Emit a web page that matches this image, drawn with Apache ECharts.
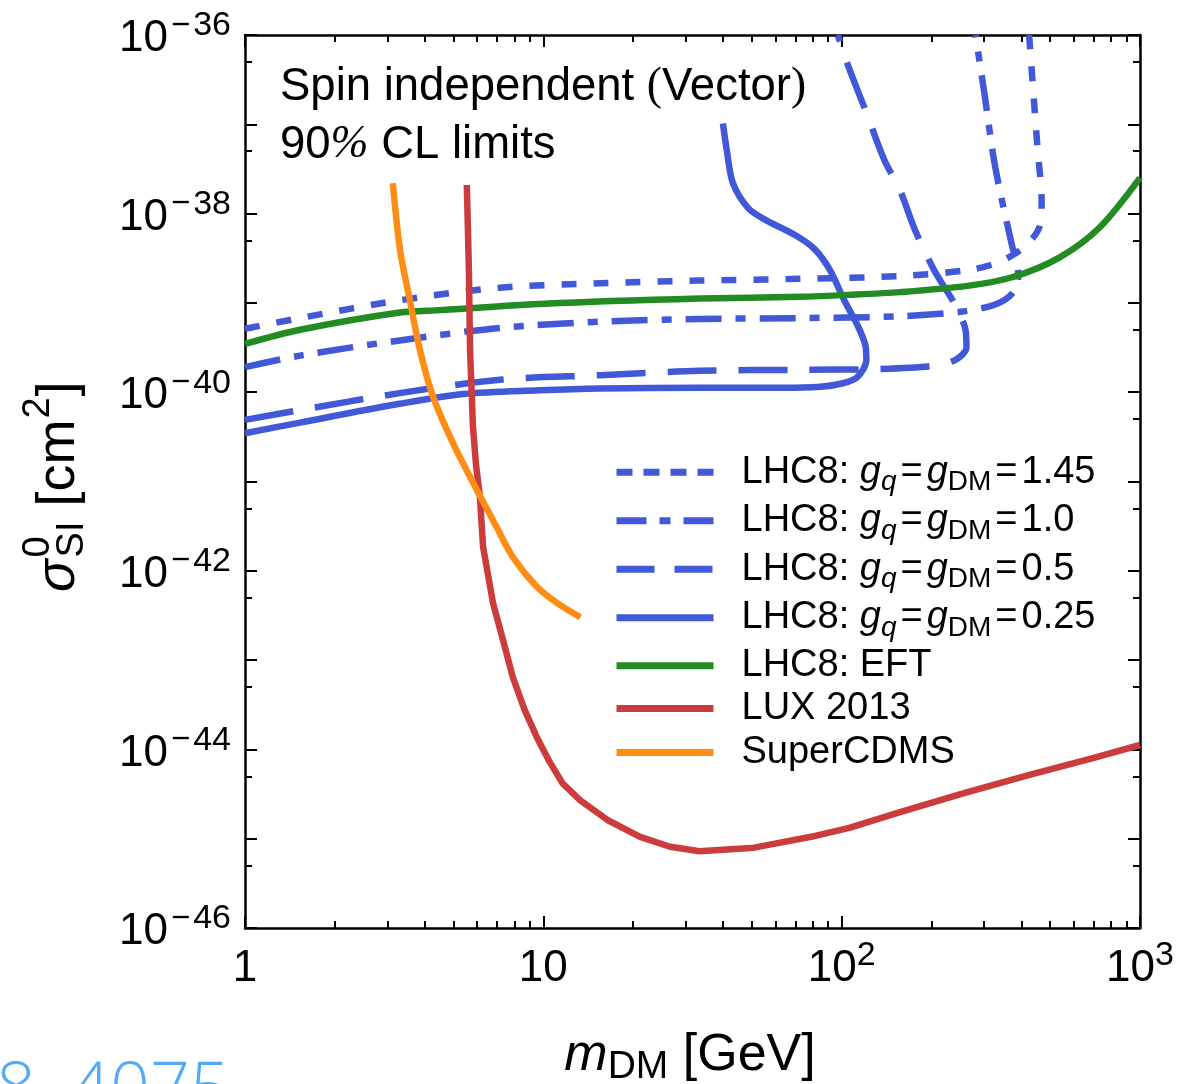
<!DOCTYPE html>
<html>
<head>
<meta charset="utf-8">
<script src="https://cdn.jsdelivr.net/npm/echarts@6/dist/echarts.min.js"></script>
<style>
  html, body { margin: 0; padding: 0; background: #fff; }
  #chart { width: 1197px; height: 1084px; }
</style>
</head>
<body>
<div id="chart"></div>
<script>
// ---- Limits on the spin-independent DM-nucleon cross-section ----
// masses in GeV, cross-sections in cm^2

// LHC8 simplified model, g_q = g_DM = 1.45
const mass145  = [1, 1.53, 3.3, 7.15, 15.5, 33.4, 72.5, 157, 268, 339, 396, 438, 462, 468, 454, 441, 425];
const sigma145 = [5.13e-40, 6.76e-40, 1.07e-39, 1.48e-39, 1.66e-39, 1.78e-39, 1.86e-39, 2.0e-39, 2.34e-39, 2.88e-39, 3.89e-39, 5.37e-39, 7.41e-39, 1.41e-38, 5.13e-38, 1.86e-37, 1.0e-36];

// g_q = g_DM = 1.0
const mass100  = [1, 1.53, 3.3, 7.15, 15.5, 33.4, 72.5, 157, 250, 326, 374, 391, 372, 347, 324, 302, 281];
const sigma100 = [1.91e-40, 2.57e-40, 3.80e-40, 5.25e-40, 6.17e-40, 6.61e-40, 6.76e-40, 7.08e-40, 7.94e-40, 9.55e-40, 1.29e-39, 2.04e-39, 4.47e-39, 1.26e-38, 3.98e-38, 2.04e-37, 1.0e-36];

// g_q = g_DM = 0.5
const mass050  = [1, 1.53, 3.3, 7.15, 15.5, 33.4, 72.5, 134, 197, 240, 262, 260, 240, 204, 176, 157, 139, 120, 105, 97];
const sigma050 = [4.9e-41, 6.31e-41, 9.77e-41, 1.38e-40, 1.55e-40, 1.74e-40, 1.78e-40, 1.82e-40, 1.95e-40, 2.29e-40, 3.16e-40, 5.01e-40, 9.55e-40, 2.34e-39, 6.61e-39, 1.82e-38, 3.98e-38, 1.45e-37, 4.57e-37, 1.0e-36];

// g_q = g_DM = 0.25
const mass025  = [1, 1.53, 3.3, 5.38, 9.72, 15.5, 33.4, 62.3, 84.9, 101, 113, 121, 120, 113, 102, 91.3, 81.3, 69.8, 55.5, 48.6, 43.2, 41.2, 40.0];
const sigma025 = [3.47e-41, 4.57e-41, 7.41e-41, 9.55e-41, 1.05e-40, 1.10e-40, 1.12e-40, 1.12e-40, 1.15e-40, 1.26e-40, 1.48e-40, 2.29e-40, 3.39e-40, 5.62e-40, 1.07e-39, 2.34e-39, 3.98e-39, 5.75e-39, 8.51e-39, 1.15e-38, 2.19e-38, 5.13e-38, 1.02e-37];

// LHC8 effective field theory
const massEFT  = [1, 1.53, 3.3, 4.5, 10.1, 33.4, 72.5, 106, 157, 264, 375, 538, 735, 1000];
const sigmaEFT = [3.47e-40, 5.0e-40, 7.8e-40, 8.3e-40, 9.8e-40, 1.12e-39, 1.17e-39, 1.23e-39, 1.32e-39, 1.55e-39, 1.95e-39, 3.24e-39, 7.08e-39, 2.51e-38];

// LUX 2013
const massLUX  = [5.54, 5.63, 5.68, 5.81, 5.95, 6.13, 6.28, 6.78, 7.33, 7.90, 8.66, 9.50, 10.5, 11.6, 13.3, 16.4, 21.1, 26.6, 33.4, 50.9, 78.9, 106, 158, 257, 420, 690, 1000];
const sigmaLUX = [2.09e-38, 2.34e-39, 2.95e-40, 4.07e-41, 1.51e-41, 6.76e-42, 1.86e-42, 4.37e-43, 1.66e-43, 6.46e-44, 2.75e-44, 1.38e-44, 7.24e-45, 4.17e-45, 2.69e-45, 1.62e-45, 1.05e-45, 8.13e-46, 7.24e-46, 7.94e-46, 1.05e-45, 1.32e-45, 2.0e-45, 3.24e-45, 5.13e-45, 7.94e-45, 1.12e-44];

// SuperCDMS
const massCDMS  = [3.13, 3.31, 3.57, 3.86, 4.27, 4.98, 6.0, 6.97, 7.92, 9.52, 11.1, 13.3];
const sigmaCDMS = [2.19e-38, 3.89e-39, 1.07e-39, 2.95e-40, 8.91e-41, 2.69e-41, 7.94e-42, 3.09e-42, 1.41e-42, 6.61e-43, 4.37e-43, 3.02e-43];

// legend entries, in drawing order
const legendNames = ['LHC8: gq=gDM=1.45', 'LHC8: gq=gDM=1.0', 'LHC8: gq=gDM=0.5', 'LHC8: gq=gDM=0.25', 'LHC8: EFT', 'LUX 2013', 'SuperCDMS'];
const couplingLabels = ['1.45', '1.0', '0.5', '0.25'];

// axis ticks (decades) and labels
const xMajorExp   = [0, 1, 2, 3];
const xMinorMult  = [2, 3, 4, 5, 6, 7, 8, 9];
const xTickLabels = ['{b|1}', '{b|10}', '{b|10}{s|2}', '{b|10}{s|3}'];
const yMajorExp   = [-46, -45, -44, -43, -42, -41, -40, -39, -38, -37, -36];
const yLabelExp   = [-46, -44, -42, -40, -38, -36];
const yMinorMult  = [5];

// ---- helpers ----
const FONT = '"Liberation Sans", Arial, Helvetica, sans-serif';
const SERIF = '"Liberation Serif", "Times New Roman", serif';
const BLUE = '#4158d8', GREEN = '#228b22', RED = '#cc3c3c', ORANGE = '#ff8c14';

const toLogPairs = (m, s) => m.map((v, i) => [Math.log10(v), Math.log10(s[i])]);
const minorTicks = (lo, hi, mult) => {
  const out = [];
  for (let d = lo; d < hi; d++) mult.forEach(k => out.push(d + Math.log10(k)));
  return out;
};
const xMinor = minorTicks(0, 3, xMinorMult);
const yMinor = minorTicks(-46, -36, yMinorMult);

const measureCtx = document.createElement('canvas').getContext('2d');
const textWidth = (str, font) => { measureCtx.font = font; return measureCtx.measureText(str).width; };

const tickRich = {
  b: { fontSize: 44, fontFamily: FONT, color: '#000', lineHeight: 52, verticalAlign: 'bottom' },
  m: { fontSize: 33, fontFamily: FONT, color: '#000', lineHeight: 20, verticalAlign: 'top', padding: [0, 3, 0, 3] },
  s: { fontSize: 34, fontFamily: FONT, color: '#000', lineHeight: 20, verticalAlign: 'top' }
};
const axisLineStyle = { color: '#000', width: 2.5 };
const tickLine = { color: '#000', width: 2 };

function xAxisDef(position, major, withLabels) {
  return {
    type: 'value', min: 0, max: 3, position: position,
    axisLine: { show: major, onZero: false, lineStyle: axisLineStyle },
    axisTick: { show: true, inside: true, length: major ? 12 : 7, customValues: major ? xMajorExp : xMinor, lineStyle: tickLine },
    axisLabel: withLabels ? {
      show: true, customValues: xMajorExp, margin: 11,
      formatter: v => xTickLabels[xMajorExp.indexOf(Math.round(v))],
      rich: tickRich
    } : { show: false },
    splitLine: { show: false }
  };
}
function yAxisDef(position, major, withLabels) {
  return {
    type: 'value', min: -46, max: -36, position: position,
    axisLine: { show: major, onZero: false, lineStyle: axisLineStyle },
    axisTick: { show: true, inside: true, length: major ? 12 : 7, customValues: major ? yMajorExp : yMinor, lineStyle: tickLine },
    axisLabel: withLabels ? {
      show: true, customValues: yLabelExp, margin: 14,
      formatter: v => '{b|10}{m|\u2212}{s|' + Math.round(-v) + '}',
      rich: tickRich
    } : { show: false },
    splitLine: { show: false }
  };
}

// ---- series ----
const curves = [
  { mass: mass145, sigma: sigma145, color: BLUE,   dash: [15, 17],         legendDash: [16, 11],         smooth: 0.3 },
  { mass: mass100, sigma: sigma100, color: BLUE,   dash: [36, 14, 10, 14], legendDash: [30, 13, 11, 13], smooth: 0.3 },
  { mass: mass050, sigma: sigma050, color: BLUE,   dash: [49, 22],         legendDash: [38, 20],         smooth: 0.3 },
  { mass: mass025, sigma: sigma025, color: BLUE,   dash: 'solid',          legendDash: 'solid',          smooth: 0.3 },
  { mass: massEFT, sigma: sigmaEFT, color: GREEN,  dash: 'solid',          legendDash: 'solid',          smooth: 0.3 },
  { mass: massLUX, sigma: sigmaLUX, color: RED,    dash: 'solid',          legendDash: 'solid',          smooth: false },
  { mass: massCDMS, sigma: sigmaCDMS, color: ORANGE, dash: 'solid',        legendDash: 'solid',          smooth: 0.3 }
];

const series = curves.map((c, i) => ({
  name: legendNames[i],
  type: 'line',
  xAxisIndex: 0, yAxisIndex: 0,
  data: toLogPairs(c.mass, c.sigma),
  symbol: 'none',
  smooth: c.smooth,
  clip: true,
  lineStyle: { color: c.color, width: 6.5, type: c.dash, cap: 'butt', join: 'round' },
  itemStyle: { color: c.color },
  emphasis: { disabled: true }
}));

// ---- legend ----
const legendText = {};
couplingLabels.forEach((g, i) => {
  legendText[legendNames[i]] = '{pad| }{a|LHC8: }{ai|g}{sq|q}{eq|=}{ai|g}{sd|DM}{eq|=}{a|' + g + '}';
});
legendText['LHC8: EFT'] = '{pad| }{e|LHC8: EFT}';
legendText['LUX 2013'] = '{pad| }{l|LUX 2013}';
legendText['SuperCDMS'] = '{pad| }{u|SuperCDMS}';

const legendRich = {
  pad: { width: 23, lineHeight: 10, fontSize: 10 },
  a:  { fontSize: 38, fontFamily: FONT, color: '#000', lineHeight: 48.5 },
  eq: { fontSize: 38, fontFamily: FONT, color: '#000', lineHeight: 48.5, padding: [0, 4, 0, 4] },
  ai: { fontSize: 38, fontFamily: FONT, fontStyle: 'italic', color: '#000', lineHeight: 48.5 },
  sq: { fontSize: 28, fontFamily: FONT, fontStyle: 'italic', color: '#000', lineHeight: 20, verticalAlign: 'bottom' },
  sd: { fontSize: 28, fontFamily: FONT, color: '#000', lineHeight: 20, verticalAlign: 'bottom' },
  e:  { fontSize: 38, fontFamily: FONT, color: '#000', lineHeight: 47.5 },
  l:  { fontSize: 38, fontFamily: FONT, color: '#000', lineHeight: 36 },
  u:  { fontSize: 38, fontFamily: FONT, color: '#000', lineHeight: 50 }
};

// ---- y-axis title, typeset piecewise and turned upright ----
const yTitleBase = 54, yTitleSmall = 38;
const fSigma = 'italic ' + yTitleBase + 'px ' + FONT;
const fBase = yTitleBase + 'px ' + FONT;
const fSmall = yTitleSmall + 'px ' + FONT;
const wSigma = textWidth('\u03c3', fSigma);
const wScript = Math.max(textWidth('0', fSmall), textWidth('SI', fSmall));
const xUnit = wSigma + 2 + wScript + textWidth(' ', fBase);
const wOpen = textWidth('[cm', fBase);
const wSup2 = textWidth('2', fSmall);
const yTitleParts = [
  { text: '\u03c3', x: 0, y: 0, font: fSigma },
  { text: '0', x: wSigma + 2, y: -20, font: fSmall },
  { text: 'SI', x: wSigma + 2, y: 14, font: fSmall },
  { text: '[cm', x: xUnit, y: 0, font: fBase },
  { text: '2', x: xUnit + wOpen + 1, y: -20, font: fSmall },
  { text: ']', x: xUnit + wOpen + wSup2 + 2, y: 0, font: fBase }
];

const option = {
  animation: false,
  backgroundColor: '#fff',
  grid: { left: 245, right: 57, top: 35, bottom: 156, outerBoundsMode: 'none' },
  xAxis: [
    xAxisDef('bottom', true, true),
    xAxisDef('bottom', false, false),
    xAxisDef('top', true, false),
    xAxisDef('top', false, false)
  ],
  yAxis: [
    yAxisDef('left', true, true),
    yAxisDef('left', false, false),
    yAxisDef('right', true, false),
    yAxisDef('right', false, false)
  ],
  legend: {
    orient: 'vertical',
    left: 613, top: 448,
    padding: 0,
    itemGap: 0,
    itemWidth: 97, itemHeight: 7,
    selectedMode: false,
    data: legendNames.map((n, i) => ({ name: n, lineStyle: { type: curves[i].legendDash } })),
    lineStyle: { width: 7 },
    itemStyle: { opacity: 0 },
    formatter: name => legendText[name],
    textStyle: { color: '#000', backgroundColor: 'rgba(255,255,255,0)', rich: legendRich }
  },
  series: series,
  graphic: [
    {
      type: 'text', x: 280, y: 87, silent: true,
      style: {
        text: '{n|Spin independent }{p|(}{n|Vector}{p|)}',
        verticalAlign: 'middle', align: 'left',
        rich: {
          n: { fontSize: 45.5, fontFamily: FONT, fill: '#000' },
          p: { fontSize: 45.5, fontFamily: SERIF, fill: '#000' }
        }
      }
    },
    {
      type: 'text', x: 280, y: 145, silent: true,
      style: {
        text: '{n|90}{p|%}{n| CL limits}',
        verticalAlign: 'middle', align: 'left',
        rich: {
          n: { fontSize: 45.5, fontFamily: FONT, fill: '#000' },
          p: { fontSize: 45.5, fontFamily: SERIF, fontStyle: 'italic', fill: '#000' }
        }
      }
    },
    {
      type: 'text', x: 690, y: 1056, silent: true,
      style: {
        text: '{i|m}{d|DM}{n| [GeV]}',
        align: 'center', verticalAlign: 'middle',
        rich: {
          i: { fontSize: 52, fontFamily: FONT, fontStyle: 'italic', fill: '#000', lineHeight: 62 },
          d: { fontSize: 39, fontFamily: FONT, fill: '#000', lineHeight: 20, verticalAlign: 'bottom' },
          n: { fontSize: 52, fontFamily: FONT, fill: '#000', lineHeight: 62 }
        }
      }
    },
    {
      type: 'group', x: 59, y: 592, rotation: Math.PI / 2, silent: true,
      children: yTitleParts.map(p => ({
        type: 'text', x: p.x, y: p.y,
        style: { text: p.text, font: p.font, fill: '#000', align: 'left', verticalAlign: 'middle' }
      }))
    },
    {
      type: 'text', x: -4, y: 1092, silent: true,
      style: {
        text: '8.',
        font: '300 70px "Open Sans", "Liberation Sans", sans-serif',
        fill: '#55aaf7', align: 'left', verticalAlign: 'middle'
      }
    },
    {
      type: 'text', x: 70, y: 1092, silent: true,
      style: {
        text: '4075',
        font: '300 70px "Open Sans", "Liberation Sans", sans-serif',
        fill: '#55aaf7', align: 'left', verticalAlign: 'middle'
      }
    }
  ]
};

const chart = echarts.init(document.getElementById('chart'), null, { renderer: 'canvas' });
chart.setOption(option);
</script>
</body>
</html>
